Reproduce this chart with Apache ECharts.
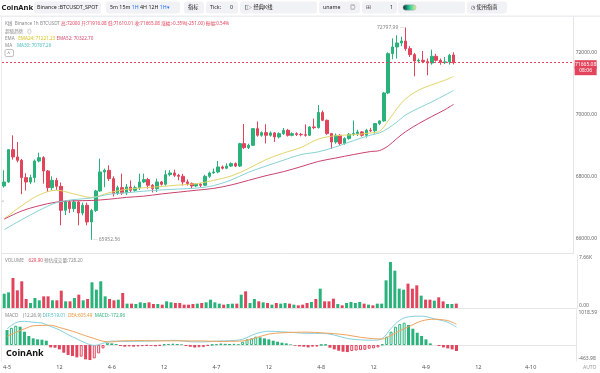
<!DOCTYPE html>
<html><head><meta charset="utf-8">
<script src="https://cdn.jsdelivr.net/npm/echarts@6/dist/echarts.min.js"></script>
<style>html,body{margin:0;padding:0;background:#fff}#c{width:600px;height:373px}</style>
</head><body><div id="c"></div>
<script>
// ---------- data ----------
const dayLabels = ['4-5','4-6','4-7','4-8','4-9','4-10'];
const tickLabels = ['4-5','12','4-6','12','4-7','12','4-8','12','4-9','12','4-10'];
const slotCount = 131;
const priceTicks = [66000, 68000, 70000, 72000];
const volTicks = [0, 7660];
const macdTicks = [-463.98, 1018.59];

const opens = [67688,67817,68860,68624,68516,67957,67817,67957,68494,68602,
68172,67634,67871,67677,66904,67172,66957,67172,66817,67065,
66527,66900,67527,68140,68194,67925,67441,67634,67463,67656,
67548,67634,67817,67893,67710,67603,67818,67743,68054,68108,
68033,68000,67818,67770,67689,67743,67710,68000,68108,68140,
68302,68260,68330,68409,68330,69054,68925,69000,69538,69323,
69409,69323,69400,69268,69376,69483,69322,69376,69350,69340,
69323,69592,69570,70060,69807,69377,69108,69323,69060,69216,
69355,69377,69431,69323,69485,69470,69700,69786,70689,71957,
72172,72301,72365,72118,71925,71720,71742,71699,71656,71871,
71742,71677,71690,71916.08];
const highs = [68193,68880,69322,69107,68560,68100,68050,68540,68763,68650,
68200,68000,67950,67800,67230,67230,67250,67200,67150,67150,
66950,67560,68570,68250,68355,68000,67700,68086,67750,67870,
67700,68086,68086,67950,67750,67925,67850,68194,68200,68216,
68080,68080,67900,67800,67780,67780,68050,68150,68250,68495,
68350,68420,68450,68450,69080,69690,69050,69560,69770,69450,
69680,69450,69430,69420,69560,69530,69420,69420,69400,69677,
69620,69860,70300,70120,69830,69400,69380,69360,69260,69400,
69800,69500,69460,69530,69560,69720,69810,70720,72000,72450,
72550,72500,72797.99,72200,71980,71800,72043,71800,72086,71950,
71800,71849,71950,72000];
const lows = [67634,67790,68537,68450,67420,67540,67750,67800,68450,67764,
67495,67550,67560,66420,66750,66820,66850,66420,66740,66420,
65952.56,66850,67500,67650,67850,67350,67400,67400,67400,67480,
67500,67560,67780,67602,67480,67495,67700,67700,68000,67980,
67871,67700,67700,67600,67650,67650,67690,67950,68080,68100,
68220,68230,68300,68300,68300,68880,68880,68980,69280,69280,
69060,69280,69108,69220,69340,69280,69290,69300,69290,69280,
69300,69520,69540,69780,69340,68880,69050,69000,69020,69180,
69300,69300,69280,69248,69430,69377,69650,69760,70650,71775,
71800,72200,72050,71850,71226,71650,71650,71258,71600,71700,
71600,71620,71600,71610.01];
const closes = [67817,68860,68624,68516,67957,67817,67957,68494,68602,68172,
67634,67871,67677,66904,67172,66957,67172,66817,67065,66527,
66900,67527,68140,68194,67925,67441,67634,67463,67656,67548,
67634,67817,67893,67710,67603,67818,67743,68054,68108,68033,
68000,67818,67770,67689,67743,67710,68000,68108,68140,68302,
68260,68330,68409,68330,69054,68925,69000,69538,69323,69409,
69323,69400,69268,69376,69483,69322,69376,69350,69340,69323,
69592,69570,70060,69807,69377,69108,69323,69060,69216,69355,
69377,69431,69323,69485,69470,69700,69786,70689,71957,72172,
72301,72365,72118,71925,71720,71742,71699,71656,71871,71742,
71677,71690,71903,71665.08];
const volumes = [2070,2265,4340,2555,3855,1300,723,1446,1110,1687,
1687,1110,1110,2506,964,964,1446,1928,1110,1300,
3711,2650,3856,1687,1300,1110,1205,2169,627,627,
578,819,723,819,578,578,482,964,819,723,
723,482,482,578,627,723,819,1205,819,627,
482,578,627,627,1928,2410,723,1300,964,819,
723,482,723,627,723,627,482,386,482,723,
868,1300,2795,964,964,1350,578,386,723,868,
723,868,627,482,386,627,627,4000,6650,5400,
2795,2650,3520,2795,3278,1783,1205,1205,1060,1542,
964,578,578,629.9];
const macdHist = [436,500,560,533,388,262,194,165,155,126,
-68,-78,-126,-223,-290,-320,-358,-339,-417,-436,
-388,-242,-97,68,48,29,-29,-48,-39,-45,
-40,-30,-20,-25,-35,-20,15,30,40,30,
20,-30,-50,-70,-65,-60,-20,10,25,45,
35,30,35,25,97,165,194,242,223,194,
165,126,97,68,48,19,-19,-39,-48,-68,
-48,-45,5,10,-78,-126,-165,-194,-204,-175,
-160,-150,-140,-107,-97,-68,19,242,388,533,
610,650,582,475,358,262,165,48,0,-29,
-68,-97,-126,-172.96];

// indicator lines read at sparse candle indexes
const lineIdx = [0,4,8,12,16,20,24,28,32,36,40,44,48,52,56,60,64,68,72,76,80,84,86,88,90,92,95,98,101,103];
const ema24 = [66630,67050,67400,67550,67430,67320,67470,67580,67630,67670,67720,67760,67870,68010,68250,68540,68750,68930,69200,69310,69340,69400,69450,69790,70180,70500,70780,70950,71100,71221.23];
const ema52 = [66620,66880,67050,67170,67210,67220,67260,67320,67360,67430,67490,67550,67610,67720,67870,68020,68150,68310,68480,68590,68700,68800,68830,68980,69220,69440,69700,69930,70150,70322.70];
const ma30  = [66280,66600,66900,67150,67250,67300,67420,67470,67520,67560,67590,67620,67700,67880,68130,68330,68520,68700,68790,68950,69150,69330,69400,69550,69750,69980,70200,70400,70620,70767.26];
const macdIdx = [0,2,4,6,8,10,12,14,16,18,20,22,24,26,28,30,33,36,39,42,45,48,51,54,57,60,63,66,69,72,75,78,81,84,86,88,90,92,95,98,101,103];
const dif = [470,650,690,660,640,540,440,300,180,60,-10,50,115,110,105,110,115,130,135,95,90,115,125,170,330,400,385,360,340,340,290,190,150,140,190,480,720,820,840,760,660,519.01];
const dea = [255,370,470,560,570,575,510,440,360,270,190,110,90,120,125,130,125,122,122,120,120,105,108,120,210,320,355,370,375,355,330,290,225,185,175,285,415,530,700,750,708,605.49];

// ---------- build ----------
const UP = '#2ab27b', DOWN = '#e2445c';
const C_EMA24 = '#e3d46a', C_EMA52 = '#c9436c', C_MA30 = '#88d2d6';
const C_DIF = '#86d0e0', C_DEA = '#eea35c';
const FONT = '"Noto Sans","Noto Sans CJK SC",sans-serif';

const categories = [];
for (let i = 0; i < slotCount; i++) {
  const h = i % 24;
  categories.push(dayLabels[Math.floor(i / 24)] + ' ' + (h < 10 ? '0' : '') + h + ':00');
}
const candleData = opens.map((o, i) => [o, closes[i], lows[i], highs[i]]);
const isUp = i => closes[i] >= opens[i];
const volData = volumes.map((v, i) => ({ value: v, itemStyle: { color: isUp(i) ? UP : DOWN } }));
const macdData = macdHist.map((v, i) => {
  const rising = i > 0 && v > macdHist[i - 1];
  const c = v >= 0 ? UP : DOWN;
  return { value: v, itemStyle: rising ? { color: '#fff', borderColor: c, borderWidth: 1 } : { color: c } };
});
const pts = (idx, vals) => idx.map((x, k) => [x, vals[k]]);
const maxHigh = Math.max(...highs), iMax = highs.indexOf(maxHigh);
const minLow = Math.min(...lows), iMin = lows.indexOf(minLow);
const last = closes.length - 1;

const grids = [
  { left: 2, right: 23, top: 17, height: 236 },
  { left: 2, right: 23, top: 255, height: 53 },
  { left: 2, right: 23, top: 310, height: 51 }
];
const xAxes = [0, 1, 2].map(g => ({
  type: 'category', gridIndex: g, data: categories, boundaryGap: true,
  axisTick: { show: false },
  axisLine: { show: true, lineStyle: { color: '#e6e6e6', width: 1 } },
  axisLabel: g === 2 ? {
    show: true, fontSize: 5.5, color: '#555', fontFamily: FONT, margin: 4,
    interval: (idx) => idx % 12 === 0,
    formatter: (val, idx) => tickLabels[Math.round(idx / 12)] || ''
  } : { show: false },
  splitLine: { show: false }
}));
const yBase = {
  type: 'value', position: 'right', scale: true,
  axisLine: { show: true, lineStyle: { color: '#e6e6e6' } },
  axisTick: { show: false }, splitLine: { show: false }
};
const yAxes = [
  Object.assign({}, yBase, { gridIndex: 0, min: 65526, max: 73139,
    axisLabel: { customValues: priceTicks, fontSize: 5, color: '#666', margin: 2, fontFamily: FONT, formatter: v => v.toFixed(2) } }),
  Object.assign({}, yBase, { gridIndex: 1, min: volTicks[0], max: volTicks[1],
    axisLabel: { customValues: volTicks, fontSize: 5, color: '#666', margin: 2, fontFamily: FONT,
      verticalAlignMaxLabel: 'top', verticalAlignMinLabel: 'bottom',
      formatter: v => v === 0 ? '0.00' : (v / 1000).toFixed(2) + 'K' } }),
  Object.assign({}, yBase, { gridIndex: 2, min: macdTicks[0], max: macdTicks[1],
    axisLabel: { customValues: macdTicks, fontSize: 5, color: '#666', margin: 2, fontFamily: FONT,
      verticalAlignMaxLabel: 'top', verticalAlignMinLabel: 'bottom',
      formatter: v => v.toFixed(2) } })
];

const lineS = (name, data, color, xi) => ({
  name, type: 'line', xAxisIndex: xi, yAxisIndex: xi, data, smooth: 0.35, symbol: 'none',
  lineStyle: { color, width: 1 }, silent: true, z: 3
});

const series = [
  { name: 'K', type: 'candlestick', xAxisIndex: 0, yAxisIndex: 0, data: candleData, barWidth: '68%',
    itemStyle: { color: UP, color0: DOWN, borderColor: UP, borderColor0: DOWN, borderWidth: 1 },
    markPoint: {
      symbol: 'circle', symbolSize: 0, animation: false,
      label: { show: true, fontSize: 5, color: '#888', fontFamily: FONT, distance: 1 },
      data: [
        { coord: [iMax, maxHigh], value: maxHigh, label: { position: 'left', formatter: p => p.value.toFixed(2) + ' \u2500' } },
        { coord: [iMin, minLow], value: minLow, label: { position: 'right', formatter: p => '\u2500 ' + p.value.toFixed(2) } }
      ]
    },
    markLine: {
      symbol: ['none', 'none'], silent: true, animation: false,
      lineStyle: { type: [2, 2], color: DOWN, width: 1 },
      label: {
        show: true, position: 'end', distance: 1, offset: [0, 5],
        formatter: () => '{a|' + closes[last].toFixed(2) + '}\n{b|08:06}',
        rich: {
          a: { backgroundColor: DOWN, color: '#fff', fontSize: 5, fontFamily: FONT, padding: [2, 2, 2, 2], width: 18, align: 'center', lineHeight: 6 },
          b: { backgroundColor: DOWN, color: '#fff', fontSize: 5, fontFamily: FONT, padding: [2, 2, 2, 2], width: 18, align: 'center', lineHeight: 6 }
        }
      },
      data: [{ yAxis: closes[last] }]
    }
  },
  lineS('EMA24', pts(lineIdx, ema24), C_EMA24, 0),
  lineS('EMA52', pts(lineIdx, ema52), C_EMA52, 0),
  lineS('MA30', pts(lineIdx, ma30), C_MA30, 0),
  { name: 'VOL', type: 'bar', xAxisIndex: 1, yAxisIndex: 1, data: volData, barWidth: '68%' },
  { name: 'MACD', type: 'bar', xAxisIndex: 2, yAxisIndex: 2, data: macdData, barWidth: '68%' },
  lineS('DIF', pts(macdIdx, dif), C_DIF, 2),
  lineS('DEA', pts(macdIdx, dea), C_DEA, 2)
];

// ---------- header / overlay texts ----------
const T = (x, y, text, extra) => ({ type: 'text', x, y, silent: true,
  style: Object.assign({ text, fontSize: 5.5, fontFamily: FONT, fill: '#333', verticalAlign: 'middle' }, extra || {}) });
const box = (x, w) => ({ type: 'rect', silent: true, shape: { x, y: 1.5, width: w, height: 12, r: 3 }, style: { fill: '#f1f2f5' } });
const g = [
  { type: 'rect', silent: true, shape: { x: 0, y: 15.5, width: 600, height: 1.5 }, style: { fill: '#eceef1' } },
  { type: 'rect', silent: true, shape: { x: 1, y: 17, width: 0.8, height: 345 }, style: { fill: '#e6e6e6' } },
  T(1.5, 7.5, 'CoinAnk', { fontSize: 7.6, fontWeight: 'bold', fill: '#1b1b1b' }),
  box(34, 67), T(37, 7.5, 'Binance :BTCUSDT_SPOT', { fontSize: 5.3, fill: '#222' }),
  box(106, 74), T(110, 7.5, '5m 15m {b|1H} 4H 12H {b|1H\u25BE}', { fontSize: 5.3, fill: '#222', rich: { b: { fill: '#1f6fff', fontSize: 5.3, fontFamily: FONT } } }),
  box(184, 20), T(188, 7.5, '指标', { fontSize: 5.3, fill: '#222' }),
  box(206, 32), T(210, 7.5, 'Tick:', { fontSize: 5.3, fill: '#222' }), T(230, 7.5, '0', { fontSize: 5.3, fill: '#222' }),
  box(240, 77), T(245, 7.5, '[\u25B7 经典K线', { fontSize: 5.3, fill: '#222' }),
  box(319, 41), T(323, 7.5, 'uname', { fontSize: 5.3, fill: '#222' }), T(350, 7.5, '\u25CE', { fontSize: 5.5, fill: '#555' }),
  box(362, 35), T(366, 7.5, '\u229E', { fontSize: 6, fill: '#555' }), T(390, 7.5, '1', { fontSize: 5.3, fill: '#222' }),
  box(398, 67),
  { type: 'rect', silent: true, shape: { x: 403, y: 4.8, width: 13, height: 5.5, r: 2.75 },
    style: { fill: new echarts.graphic.LinearGradient(0, 0, 1, 0, [{ offset: 0, color: '#123' }, { offset: 0.5, color: '#2c9' }, { offset: 1, color: '#ee9' }]), stroke: '#aaa', lineWidth: 0.5 } },
  box(467, 40), T(471, 7.5, '\u25F7 使用指南', { fontSize: 5.3, fill: '#222' }),
  // info lines
  T(5, 23.8, '{g|K线  Binance 1h BTCUSDT }{r|高:72000 开:71916.08 低:71610.01 收:71665.08 涨幅:-0.35%(-251.00) 振幅:0.54%}', {
    fontSize: 4.6, rich: { g: { fill: '#888', fontSize: 4.6, fontFamily: FONT }, r: { fill: '#e2445c', fontSize: 4.6, fontFamily: FONT } } }),
  T(5, 31.3, '超级趋势   \u25CE', { fontSize: 4.6, fill: '#888' }),
  T(5, 38.6, '{g|EMA}   {y|EMA24: 71221.23} {p|EMA52: 70322.70}', {
    fontSize: 4.6, rich: { g: { fill: '#888', fontSize: 4.6, fontFamily: FONT }, y: { fill: '#d9c21c', fontSize: 4.6, fontFamily: FONT }, p: { fill: '#d14a6e', fontSize: 4.6, fontFamily: FONT } } }),
  T(5, 45.6, '{g|MA}    {c|MA30: 70767.26}', {
    fontSize: 4.6, rich: { g: { fill: '#888', fontSize: 4.6, fontFamily: FONT }, c: { fill: '#4cbcc4', fontSize: 4.6, fontFamily: FONT } } }),
  { type: 'rect', silent: true, shape: { x: 5, y: 49.5, width: 8.5, height: 7, r: 1.5 }, style: { fill: '#fff', stroke: '#999', lineWidth: 0.6 } },
  T(7.3, 53.6, '^', { fontSize: 5, fill: '#666' }),
  T(1.5, 202, '<', { fontSize: 5, fill: '#999' }),
  // pane titles
  T(5, 260.5, '{g|VOLUME}    {r|629.90} {g|预估成交量:728.20}', {
    fontSize: 4.6, rich: { g: { fill: '#888', fontSize: 4.6, fontFamily: FONT }, r: { fill: '#e2445c', fontSize: 4.6, fontFamily: FONT } } }),
  T(5, 315.5, '{g|MACD    (12,26,9)} {c|DIF:519.01}  {o|DEA:605.49}  {gr|MACD:-172.96}', {
    fontSize: 4.6, rich: { g: { fill: '#888', fontSize: 4.6, fontFamily: FONT }, c: { fill: '#4cbcc4', fontSize: 4.6, fontFamily: FONT },
      o: { fill: '#e8963a', fontSize: 4.6, fontFamily: FONT }, gr: { fill: '#2ab27b', fontSize: 4.6, fontFamily: FONT } } }),
  T(6, 353, 'CoinAnk', { fontSize: 9, fontWeight: 'bold', fill: '#111' }),
  T(583, 367.5, 'AUTO', { fontSize: 5, fill: '#999' })
];

const chart = echarts.init(document.getElementById('c'), null, { renderer: 'canvas' });
chart.setOption({
  animation: false,
  backgroundColor: '#fff',
  textStyle: { fontFamily: FONT },
  grid: grids, xAxis: xAxes, yAxis: yAxes, series, graphic: g
});
</script></body></html>
